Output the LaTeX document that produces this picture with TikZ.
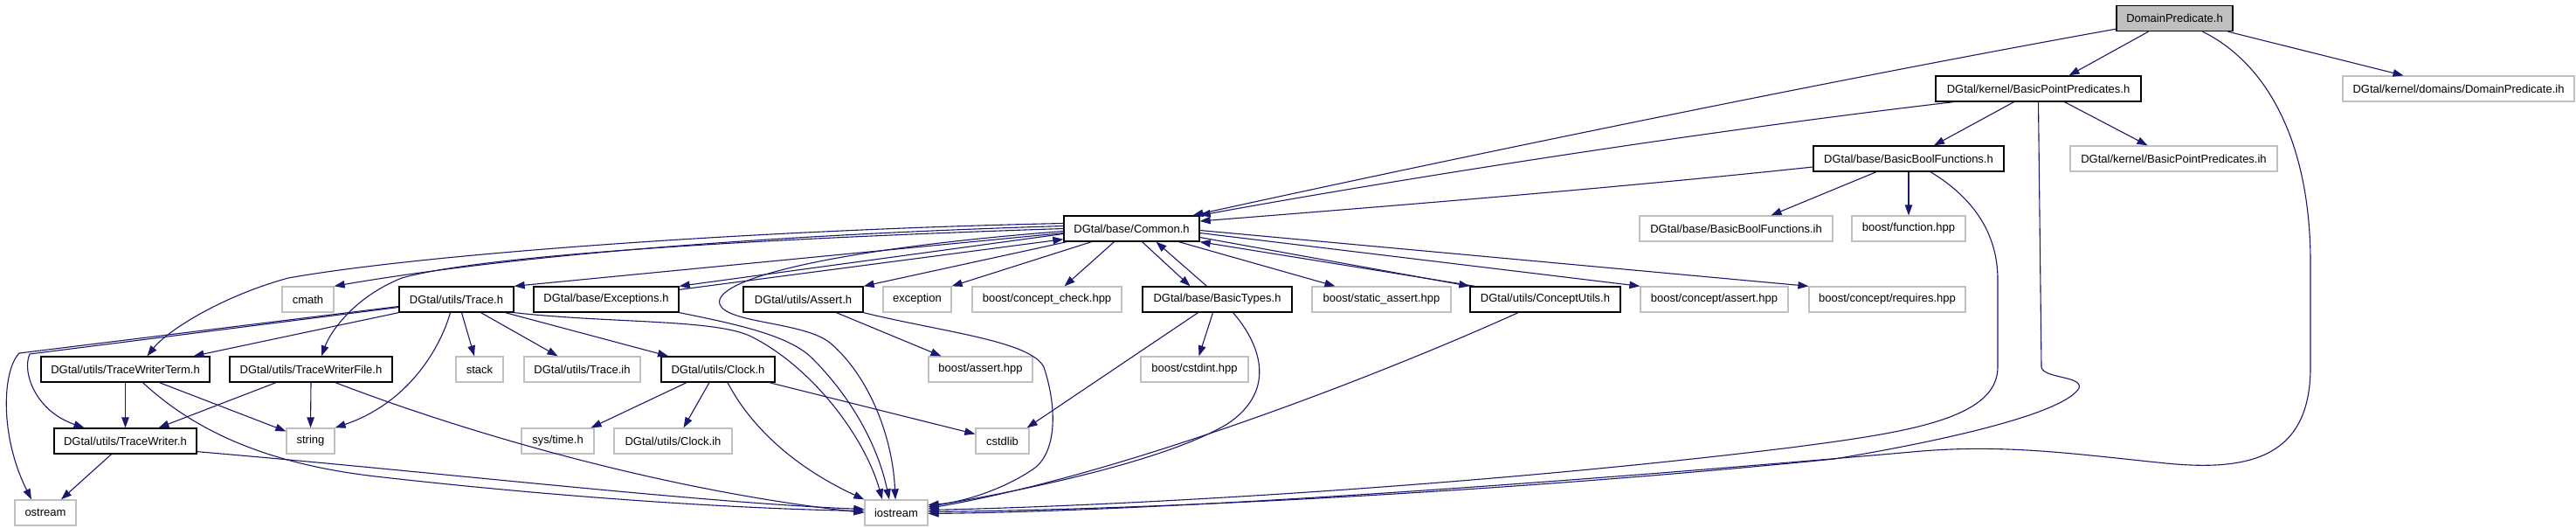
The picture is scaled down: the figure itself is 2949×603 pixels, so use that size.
\documentclass[tikz,border=0pt]{standalone}
\usepackage{fontspec}
\setmainfont{Liberation Sans}
\usetikzlibrary{arrows.meta}
\definecolor{edgec}{HTML}{191970}
\definecolor{greyb}{HTML}{BFBFBF}
\definecolor{rootfill}{HTML}{BFBFBF}
\begin{document}
\begin{tikzpicture}[x=1pt,y=-1pt,
 nb/.style={rectangle,inner sep=0pt,minimum height=29pt,font=\fontsize{13}{15}\selectfont,line width=1.3pt,anchor=center},
 doc/.style={nb,draw=black,fill=white},
 ext/.style={nb,draw=greyb,fill=white},
 root/.style={nb,draw=black,fill=rootfill},
 dep/.style={draw=edgec,line width=1.1pt,-{Triangle[length=12pt,width=8.5pt]}}]
\useasboundingbox[fill=white] (0,0) rectangle (2949,603);
% row 0
\node[root,minimum width=133pt] (dp) at (2489.5,21) {DomainPredicate.h};
% row 1
\node[doc,minimum width=235pt] (bpp) at (2333.5,101.5) {DGtal/kernel/BasicPointPredicates.h};
\node[ext,minimum width=265pt] (dpih) at (2814.5,101.5) {DGtal/kernel/domains/DomainPredicate.ih};
% row 2
\node[doc,minimum width=218pt] (bbf) at (2185,181.5) {DGtal/base/BasicBoolFunctions.h};
\node[ext,minimum width=237pt] (bppih) at (2488.5,181.5) {DGtal/kernel/BasicPointPredicates.ih};
% row 3
\node[doc,minimum width=155pt] (common) at (1295.5,261.5) {DGtal/base/Common.h};
\node[ext,minimum width=221pt] (bbfih) at (1987.5,261.5) {DGtal/base/BasicBoolFunctions.ih};
\node[ext,minimum width=130pt] (bfun) at (2185,261.5) {boost/function.hpp};
% row 4
\node[ext,minimum width=59pt] (cmath) at (352.5,342.5) {cmath};
\node[doc,minimum width=131pt] (trace) at (522.5,342.5) {DGtal/utils/Trace.h};
\node[doc,minimum width=166pt] (exc) at (694,342.5) {DGtal/base/Exceptions.h};
\node[doc,minimum width=137pt] (assert) at (919.5,342.5) {DGtal/utils/Assert.h};
\node[ext,minimum width=78pt] (exception) at (1050,342.5) {exception};
\node[ext,minimum width=171pt] (cc) at (1198.5,342.5) {boost/concept\_check.hpp};
\node[doc,minimum width=171pt] (bt) at (1393.5,342.5) {DGtal/base/BasicTypes.h};
\node[ext,minimum width=159pt] (sa) at (1581.5,342.5) {boost/static\_assert.hpp};
\node[doc,minimum width=172pt] (cu) at (1769,342.5) {DGtal/utils/ConceptUtils.h};
\node[ext,minimum width=169pt] (ca) at (1962.5,342.5) {boost/concept/assert.hpp};
\node[ext,minimum width=179pt] (cr) at (2160.5,342.5) {boost/concept/requires.hpp};
% row 5
\node[doc,minimum width=193pt] (twt) at (143.5,422.5) {DGtal/utils/TraceWriterTerm.h};
\node[doc,minimum width=186pt] (twf) at (356,422.5) {DGtal/utils/TraceWriterFile.h};
\node[ext,minimum width=54pt] (stack) at (549,422.5) {stack};
\node[ext,minimum width=133pt] (traceih) at (666.5,422.5) {DGtal/utils/Trace.ih};
\node[doc,minimum width=130pt] (clock) at (822,422.5) {DGtal/utils/Clock.h};
\node[ext,minimum width=119pt] (bassert) at (1122.5,422.5) {boost/assert.hpp};
\node[ext,minimum width=123pt] (cstdint) at (1367.5,422.5) {boost/cstdint.hpp};
% row 6
\node[doc,minimum width=163pt] (tw) at (143.5,504.5) {DGtal/utils/TraceWriter.h};
\node[ext,minimum width=55pt] (string) at (355.5,504.5) {string};
\node[ext,minimum width=83pt] (systime) at (638.5,504.5) {sys/time.h};
\node[ext,minimum width=135pt] (clockih) at (770.5,504.5) {DGtal/utils/Clock.ih};
\node[ext,minimum width=61pt] (cstdlib) at (1147.5,504.5) {cstdlib};
% row 7
\node[ext,minimum width=70pt] (ostream) at (52,586.5) {ostream};
\node[ext,minimum width=72pt] (iostream) at (1026,586.5) {iostream};

% DomainPredicate.h
\draw[dep] ([yshift=3pt]dp.south west) .. controls (2050,100) and (1600,195) .. ([xshift=70pt]common.north);
\draw[dep] ([xshift=-30pt]dp.south) -- ([xshift=35pt]bpp.north);
\draw[dep] ([xshift=32pt]dp.south) .. controls (2600,75) and (2645,170) .. (2645,300) -- (2645,420) .. controls (2645,520) and (2580,540) .. (2480,530) .. controls (2380,520) and (2300,508) .. (2200,516) .. controls (1700,560) and (1300,585) .. ([yshift=-1pt]iostream.east);
\draw[dep] ([xshift=61pt]dp.south) -- ([xshift=-63pt]dpih.north);
% BasicPointPredicates.h
\draw[dep] ([xshift=-97pt]bpp.south) .. controls (1950,150) and (1600,205) .. (common.north east);
\draw[dep] ([xshift=-28pt]bpp.south) -- ([xshift=29pt]bbf.north);
\draw[dep] ([xshift=30pt]bpp.south) -- ([xshift=-30pt]bppih.north);
\draw[dep] (bpp.south) -- (2337,420) .. controls (2339,433) and (2385,430) .. (2380,444) .. controls (2365,470) and (2250,500) .. (2100,525) .. controls (1700,565) and (1300,583) .. ([yshift=1pt]iostream.east);
% BasicBoolFunctions.h
\draw[dep] ([yshift=-9.5pt]bbf.west) .. controls (1850,215) and (1600,235) .. ([yshift=8.5pt]common.east);
\draw[dep] ([xshift=-37pt]bbf.south) -- ([xshift=40pt]bbfih.north);
\draw[dep] (bbf.south) -- (bfun.north);
\draw[dep] ([xshift=25pt]bbf.south) .. controls (2262,228) and (2287,270) .. (2287,320) -- (2287,420) .. controls (2287,480) and (2180,495) .. (2050,512) .. controls (1700,555) and (1300,578) .. ([yshift=3pt]iostream.east);
% Common.h
\draw[dep] ([yshift=3pt]common.west) .. controls (900,268) and (600,290) .. (cmath.north east);
\draw[dep] ([yshift=-5pt]common.west) -- (trace.north east);
\draw[dep] ([yshift=6pt]common.west) .. controls (900,262) and (500,288) .. (330,318) .. controls (250,340) and (190,380) .. ([xshift=25pt]twt.north);
\draw[dep] (common.west) .. controls (900,272) and (560,290) .. (460,318) .. controls (405,340) and (378,380) .. ([xshift=12pt]twf.north);
\draw[dep] ([yshift=-6pt]common.west) -- (exc.north east);
\draw[dep] ([yshift=-4pt]exc.north east) -- ([yshift=3pt]common.south west);
\draw[dep] ([yshift=-3pt]common.west) .. controls (950,285) and (815,320) .. (824,348) .. controls (832,370) and (920,368) .. (950,392) .. controls (995,430) and (1022,500) .. ([xshift=-1pt]iostream.north);
\draw[dep] ([xshift=4pt]common.south west) -- (assert.north east);
\draw[dep] ([xshift=-46pt]common.south) -- (exception.north east);
\draw[dep] ([xshift=-20pt]common.south) -- ([xshift=20pt]cc.north);
\draw[dep] ([xshift=12pt]common.south) -- ([xshift=-31pt]bt.north);
\draw[dep] ([xshift=-12pt]bt.north) -- ([xshift=28pt]common.south);
\draw[dep] ([xshift=54pt]common.south) -- ([xshift=-53pt]sa.north);
\draw[dep] ([yshift=-10pt]common.east) -- (cu.north west);
\draw[dep] ([xshift=6pt]cu.north west) -- (common.south east);
\draw[dep] ([yshift=-5pt]common.east) -- (ca.north west);
\draw[dep] ([yshift=-2pt]common.east) -- (cr.north west);
% Trace.h
\draw[dep] ([yshift=-8pt]trace.west) -- (22,404) .. controls (2,425) and (0,500) .. ([xshift=-16pt]ostream.north);
\draw[dep] ([yshift=-9pt]trace.west) -- (34,405) .. controls (25,425) and (40,470) .. ([xshift=-47pt]tw.north);
\draw[dep] (trace.south west) -- ([xshift=78pt]twt.north);
\draw[dep] ([xshift=-7pt]trace.south) .. controls (505,395) and (470,460) .. (string.north east);
\draw[dep] ([xshift=6pt]trace.south) -- ([xshift=-6pt]stack.north);
\draw[dep] ([xshift=28pt]trace.south) -- ([xshift=-28pt]traceih.north);
\draw[dep] ([xshift=56pt]trace.south) -- ([xshift=-57pt]clock.north);
\draw[dep] (trace.south east) .. controls (700,370) and (820,365) .. (860,385) .. controls (930,420) and (990,500) .. ([xshift=-16pt]iostream.north);
% Exceptions.h
\draw[dep] (exc.south east) .. controls (850,372) and (905,385) .. (930,410) .. controls (975,455) and (1005,510) .. ([xshift=-8pt]iostream.north);
% Assert.h
\draw[dep] ([xshift=38pt]assert.south) -- ([xshift=-45pt]bassert.north);
\draw[dep] (assert.south east) .. controls (1080,380) and (1180,390) .. (1195,420) .. controls (1210,465) and (1210,515) .. (1185,535) .. controls (1150,560) and (1100,575) .. ([yshift=9pt]iostream.east);
% TraceWriterTerm.h
\draw[dep] (twt.south) -- (tw.north);
\draw[dep] ([xshift=39pt]twt.south) -- ([yshift=-4pt]string.north west);
\draw[dep] ([xshift=20pt]twt.south) .. controls (220,490) and (300,530) .. (430,545) .. controls (650,570) and (850,582) .. ([yshift=2pt]iostream.west);
% TraceWriterFile.h
\draw[dep] ([xshift=-40pt]twf.south) -- ([xshift=38pt]tw.north);
\draw[dep] (twf.south) -- (string.north);
\draw[dep] ([xshift=28pt]twf.south) .. controls (520,490) and (750,560) .. (iostream.west);
% TraceWriter.h
\draw[dep] ([xshift=-16pt]tw.south) -- ([xshift=18pt]ostream.north);
\draw[dep] ([yshift=3pt]tw.south east) .. controls (500,540) and (800,575) .. ([yshift=4pt]iostream.west);
% Clock.h
\draw[dep] ([xshift=-36pt]clock.south) -- ([xshift=38pt]systime.north);
\draw[dep] ([xshift=-10pt]clock.south) -- ([xshift=12pt]clockih.north);
\draw[dep] ([xshift=11pt]clock.south) .. controls (855,480) and (900,530) .. (iostream.north west);
\draw[dep] ([xshift=-7pt]clock.south east) -- ([yshift=8pt]cstdlib.west);
% BasicTypes.h
\draw[dep] ([xshift=-22pt]bt.south) -- ([xshift=-3pt]cstdlib.north east);
\draw[dep] ([xshift=-5pt]bt.south) -- ([xshift=5pt]cstdint.north);
\draw[dep] ([xshift=18pt]bt.south) .. controls (1440,390) and (1465,445) .. (1405,485) .. controls (1330,530) and (1150,565) .. ([yshift=7pt]iostream.east);
% ConceptUtils.h
\draw[dep] ([xshift=-31pt]cu.south) .. controls (1600,420) and (1300,540) .. ([yshift=5pt]iostream.east);
\end{tikzpicture}
\end{document}
